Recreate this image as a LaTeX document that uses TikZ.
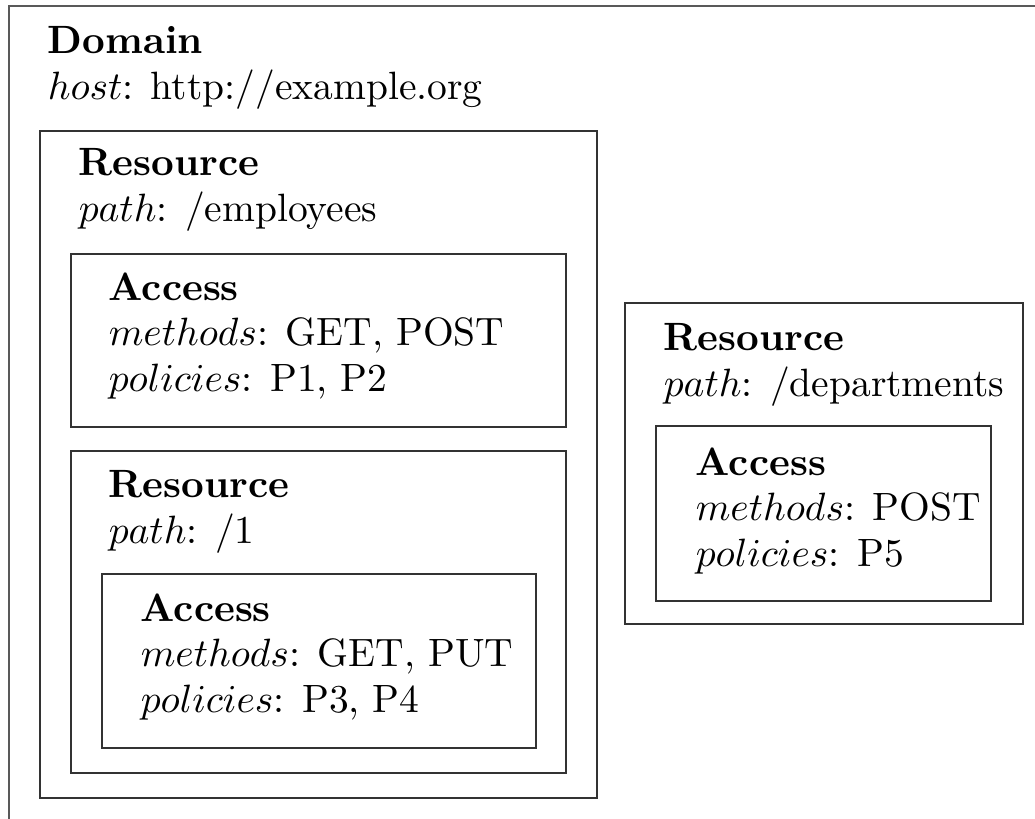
\RequirePackage{fix-cm}
\documentclass[tikz,border=0pt]{standalone}
\begin{document}
\begin{tikzpicture}[x=0.262pt, y=-0.262pt,
  box/.style={draw=black!80, line width=0.55pt},
  outerbox/.style={draw=black!65, line width=0.6pt},
  boxtext/.style={anchor=north west, inner sep=0pt, align=left,
    font=\fontsize{10.35pt}{11.9pt}\selectfont}]
  \clip (0,0) rectangle (1035,819);
  % Domain (runs past the page edges)
  \draw[outerbox] (9,6) rectangle (1070,860);
  \node[boxtext] (domain) at (47,26) {\textbf{Domain}\\$host$: http://example.org};
  % Resource /employees
  \draw[box] (40,131) rectangle (597,798);
  \node[boxtext] (res1) at (78,148) {\textbf{Resource}\\$path$: /employees};
  \draw[box] (71,254) rectangle (566,427);
  \node[boxtext] (acc1) at (108,272) {\textbf{Access}\\$methods$: GET, POST\\$policies$: P1, P2};
  % Resource /1
  \draw[box] (71,451) rectangle (566,773);
  \node[boxtext] (res2) at (108,470) {\textbf{Resource}\\$path$: /1};
  \draw[box] (102,574) rectangle (536,748);
  \node[boxtext] (acc2) at (140,593) {\textbf{Access}\\$methods$: GET, PUT\\$policies$: P3, P4};
  % Resource /departments
  \draw[box] (625,303) rectangle (1023,624);
  \node[boxtext] (res3) at (663,323) {\textbf{Resource}\\$path$: /departments};
  \draw[box] (656,426) rectangle (991,601);
  \node[boxtext] (acc3) at (695,447) {\textbf{Access}\\$methods$: POST\\$policies$: P5};
\end{tikzpicture}
\end{document}
